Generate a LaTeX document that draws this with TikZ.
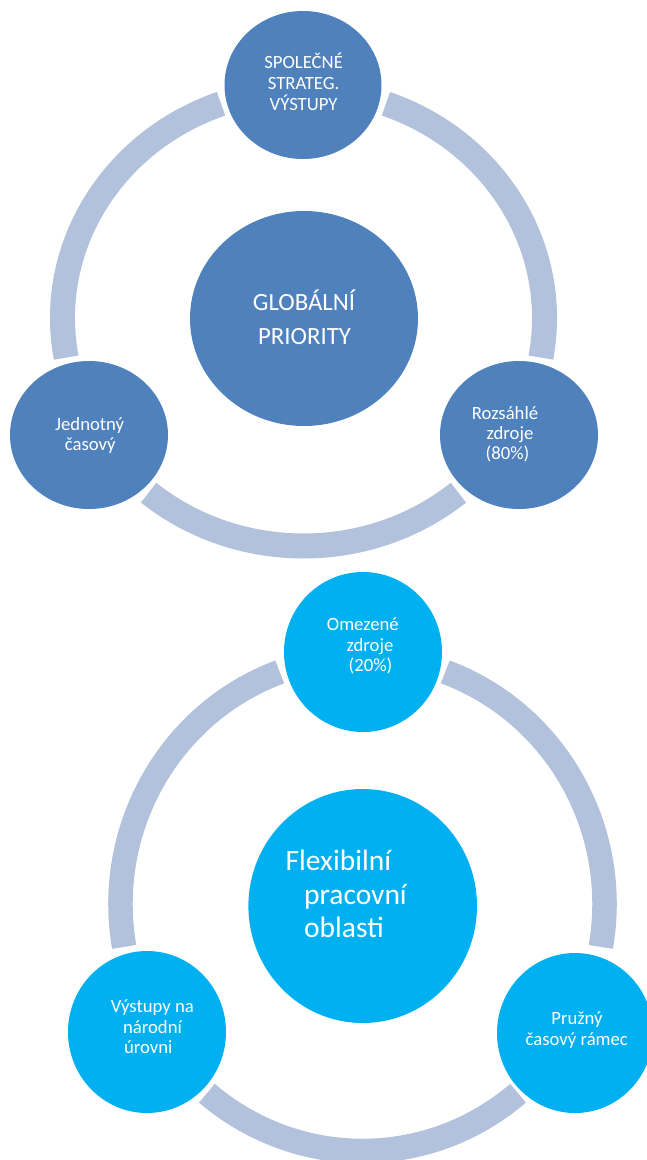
\documentclass[tikz,border=0pt]{standalone}
\usepackage{fontspec}
\setmainfont{Carlito}
\usetikzlibrary{shapes.geometric}
\definecolor{darkblue}{HTML}{4F81BD}
\definecolor{cyanc}{HTML}{00B0F0}
\definecolor{ringc}{HTML}{B3C2DC}
\tikzset{
  ringarc/.style={draw=ringc, line width=25pt, line cap=butt},
  disc/.style={shape=ellipse, inner sep=0pt, draw=none},
  bluedisc/.style={disc, fill=darkblue},
  cyandisc/.style={disc, fill=cyanc},
  lbl/.style={text=white, inner sep=0pt, anchor=base, font=\fontsize{18.7}{20}\selectfont},
  biglbl/.style={lbl, font=\fontsize{24.8}{28}\selectfont},
  hugelbl/.style={lbl, anchor=base west, font=\fontsize{29.5}{33}\selectfont},
}
\begin{document}
\begin{tikzpicture}[x=1pt,y=-1pt]
\useasboundingbox (0,0) rectangle (646,1160);
% ---------- top diagram ----------
\coordinate (gring) at (303.5,318);
\draw[ringarc] (gring) ++(-70:241 and 228) arc[start angle=-70, end angle=10, x radius=241, y radius=228];
\draw[ringarc] (gring) ++(-190:241 and 228) arc[start angle=-190, end angle=-110, x radius=241, y radius=228];
\draw[ringarc] (gring) ++(-310:241 and 228) arc[start angle=-310, end angle=-230, x radius=241, y radius=228];
\node[bluedisc, minimum width=157pt, minimum height=148pt] (gtop) at (303,85) {};
\node[bluedisc, minimum width=228pt, minimum height=215pt] (gcenter) at (304,318.5) {};
\node[bluedisc, minimum width=158pt, minimum height=148pt] (gleft) at (89,435) {};
\node[bluedisc, minimum width=158pt, minimum height=148pt] (gright) at (519,435) {};
\node[lbl] (gt1) at (303.6,68.8) {SPOLEČNÉ};
\node[lbl] (gt2) at (303.6,89.3) {STRATEG.};
\node[lbl] (gt3) at (303.6,110) {VÝSTUPY};
\node[biglbl] (gc1) at (304,310.4) {GLOBÁLNÍ};
\node[biglbl] (gc2) at (304.5,344.4) {PRIORITY};
\node[lbl] (gl1) at (89.7,430) {Jednotný};
\node[lbl] (gl2) at (90.2,450.7) {časový};
\node[lbl] (gr1) at (505,419.3) {Rozsáhlé};
\node[lbl] (gr2) at (510,439.3) {zdroje};
\node[lbl] (gr3) at (507.5,459) {(80\%)};
% ---------- bottom diagram ----------
\coordinate (fring) at (362.5,904);
\draw[ringarc, line width=24.5pt] (fring) ++(-70:242 and 247) arc[start angle=-70, end angle=10, x radius=242, y radius=247];
\draw[ringarc, line width=24.5pt] (fring) ++(-190:242 and 247) arc[start angle=-190, end angle=-110, x radius=242, y radius=247];
\draw[ringarc, line width=24.5pt] (fring) ++(-310:242 and 247) arc[start angle=-310, end angle=-230, x radius=242, y radius=247];
\node[cyandisc, minimum width=158pt, minimum height=160pt] (ftop) at (363,652) {};
\node[cyandisc, minimum width=228.6pt, minimum height=234pt] (fcenter) at (362.7,906) {};
\node[cyandisc, minimum width=158pt, minimum height=162pt] (fleft) at (147,1032) {};
\node[cyandisc, minimum width=156pt, minimum height=160pt] (fright) at (575,1033) {};
\node[lbl] (ft1) at (362.8,630.7) {Omezené};
\node[lbl] (ft2) at (370,651) {zdroje};
\node[lbl] (ft3) at (370.5,671.5) {(20\%)};
\node[hugelbl] (fc1) at (285.5,870) {Flexibilní};
\node[hugelbl] (fc2) at (304,904) {pracovní};
\node[hugelbl] (fc3) at (304,937.3) {oblasti};
\node[lbl] (fl1) at (152.4,1012.3) {Výstupy na};
\node[lbl] (fl2) at (152.5,1033.3) {národní};
\node[lbl] (fl3) at (148.3,1053.3) {úrovni};
\node[lbl] (fr1) at (577,1024) {Pružný};
\node[lbl] (fr2) at (576.7,1045.7) {časový rámec};
\end{tikzpicture}
\end{document}
